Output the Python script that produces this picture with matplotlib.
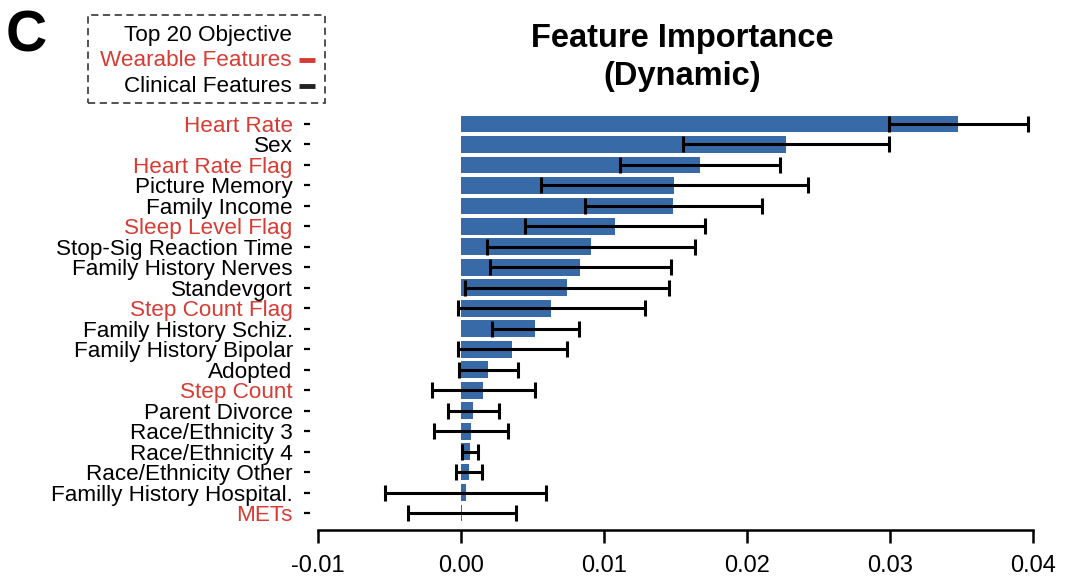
import matplotlib
matplotlib.use("Agg")
import matplotlib.pyplot as plt
from matplotlib.patches import Rectangle
from matplotlib.lines import Line2D

plt.rcParams['font.family'] = ['Liberation Sans', 'DejaVu Sans']

# Feature importance (mean) and its spread, top feature first
features = [
    "Heart Rate", "Sex", "Heart Rate Flag", "Picture Memory", "Family Income",
    "Sleep Level Flag", "Stop-Sig Reaction Time", "Family History Nerves",
    "Standevgort", "Step Count Flag", "Family History Schiz.",
    "Family History Bipolar", "Adopted", "Step Count", "Parent Divorce",
    "Race/Ethnicity 3", "Race/Ethnicity 4", "Race/Ethnicity Other",
    "Familly History Hospital.", "METs",
]
importance = [
    0.03476, 0.02273, 0.01671, 0.01490, 0.01483,
    0.01077, 0.00909, 0.00832, 0.00743, 0.00631,
    0.00520, 0.00359, 0.00191, 0.00154, 0.00084,
    0.00070, 0.00063, 0.00056, 0.00033, 0.00007,
]
error = [
    0.00486, 0.00720, 0.00559, 0.00934, 0.00619,
    0.00629, 0.00729, 0.00633, 0.00713, 0.00654,
    0.00303, 0.00381, 0.00208, 0.00360, 0.00178,
    0.00259, 0.00057, 0.00090, 0.00563, 0.00378,
]
wearable = {"Heart Rate", "Heart Rate Flag", "Sleep Level Flag",
            "Step Count Flag", "Step Count", "METs"}
x_ticks = [-0.01, 0.00, 0.01, 0.02, 0.03, 0.04]
x_tick_labels = ["-0.01", "0.00", "0.01", "0.02", "0.03", "0.04"]

RED = "#d63c34"
BLUE = "#386aa7"
W, H = 1068, 578

fig = plt.figure(figsize=(W / 100, H / 100), dpi=100)


def fx(px):
    return px / W


def fy(py):
    return 1 - py / H


# axes box in pixel coordinates
left, right, top, bottom = 310, 1062, 110, 530
ax = fig.add_axes([fx(left), fy(bottom), fx(right - left), (bottom - top) / H])

pos = list(range(len(features)))
ax.barh(pos, importance, height=0.82, color=BLUE, zorder=1)
ax.errorbar(importance, pos, xerr=error, fmt="none", ecolor="black",
            elinewidth=2.2, capsize=6, capthick=2.2, zorder=2)

ax.set_xlim(-0.01056, 0.0420)
ax.set_ylim(19.83, -0.684)

ax.set_yticks(pos)
ax.set_yticklabels(features, fontsize=16.2)
ax.tick_params(axis="y", length=4.5, width=1.6, pad=8)
for tick, name in zip(ax.yaxis.get_major_ticks(), features):
    c = RED if name in wearable else "black"
    tick.label1.set_color(c)
    tick.tick1line.set_color(c)

ax.set_xticks(x_ticks)
ax.set_xticklabels(x_tick_labels, fontsize=17)
ax.tick_params(axis="x", length=9.4, width=1.8, pad=8.5)

for s in ("left", "top", "right"):
    ax.spines[s].set_visible(False)
ax.spines["bottom"].set_linewidth(1.8)
ax.spines["bottom"].set_bounds(-0.01, 0.04)

# panel letter and title
fig.text(fx(6), fy(52), "C", fontsize=41, fontweight="bold", ha="left",
         va="baseline")
fig.text(fx(682), fy(39), "Feature Importance", fontsize=23.5,
         fontweight="bold", ha="center", va="center")
fig.text(fx(682), fy(77), "(Dynamic)", fontsize=23.5, fontweight="bold",
         ha="center", va="center")

# legend box
fig.patches.append(Rectangle((fx(88), fy(103)), fx(325 - 88), (103 - 15) / H,
                             transform=fig.transFigure, fill=False,
                             edgecolor="#444444", linewidth=1.3,
                             linestyle=(0, (4, 2.5))))
fig.text(fx(292), fy(35), "Top 20 Objective", fontsize=16.2, color="black",
         ha="right", va="center")
fig.text(fx(292), fy(60), "Wearable Features", fontsize=16.2, color=RED,
         ha="right", va="center")
fig.text(fx(292), fy(86), "Clinical Features", fontsize=16.2, color="black",
         ha="right", va="center")
for yy, c in ((60, RED), (86, "#222222")):
    fig.add_artist(Line2D([fx(299), fx(315)], [fy(yy), fy(yy)],
                          transform=fig.transFigure, color=c, linewidth=3.5,
                          solid_capstyle="butt"))

fig.savefig("out.png", dpi=100)
